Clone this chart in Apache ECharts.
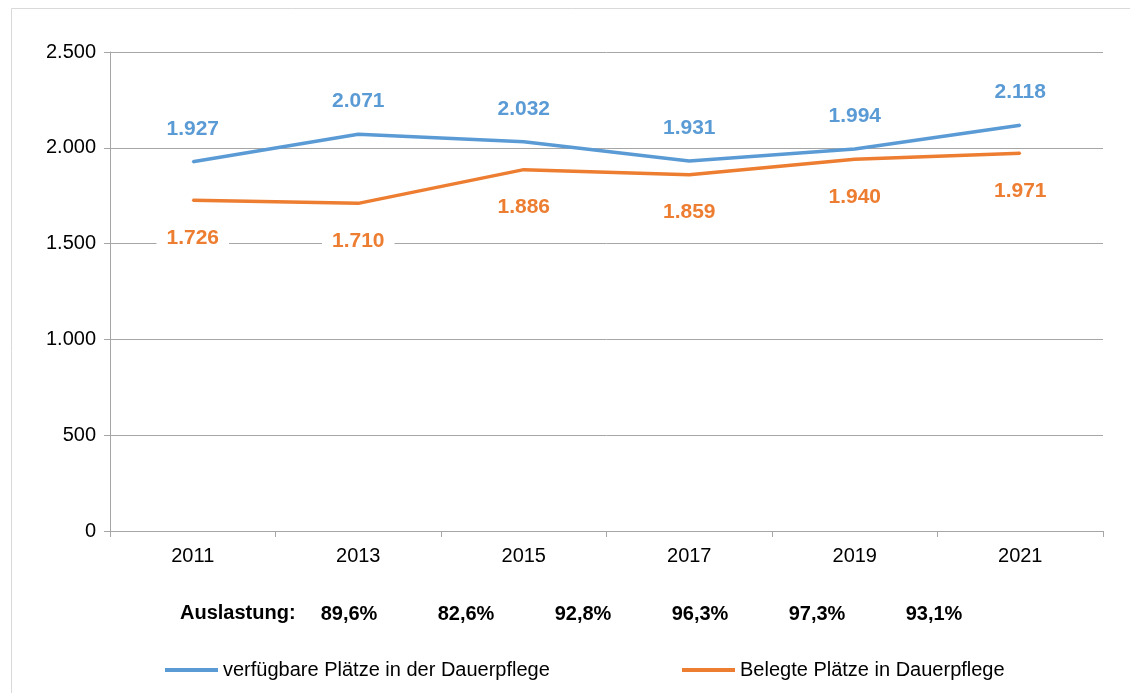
<!DOCTYPE html>
<html>
<head>
<meta charset="utf-8">
<script src="https://cdn.jsdelivr.net/npm/echarts@6/dist/echarts.min.js"></script>
<style>
html,body{margin:0;padding:0;background:#fff;}
#chart{width:1130px;height:693px;}
</style>
</head>
<body>
<div id="chart"></div>
<script>
var years = ['2011', '2013', '2015', '2017', '2019', '2021'];
var verfuegbar = [1927, 2071, 2032, 1931, 1994, 2118];
var belegt = [1726, 1710, 1886, 1859, 1940, 1971];
var auslastung = ['89,6%', '82,6%', '92,8%', '96,3%', '97,3%', '93,1%'];
var auslastungX = [349, 466, 583, 700, 817, 934];

var FONT = '"Liberation Sans", Arial, sans-serif';
var BLUE = '#5B9BD5';
var ORANGE = '#ED7D31';

function fmt(v) {
  return String(v).replace(/\B(?=(\d{3})+(?!\d))/g, '.');
}

var chart = echarts.init(document.getElementById('chart'));

var graphics = [{
  type: 'rect',
  shape: {x: 11.5, y: 8.5, width: 1200, height: 800},
  style: {fill: 'none', stroke: '#D9D9D9', lineWidth: 1}
}, {
  type: 'text',
  left: 180, top: 603,
  style: {text: 'Auslastung:', font: 'bold 20px ' + FONT, fill: '#000'}
}];
auslastung.forEach(function (t, i) {
  graphics.push({
    type: 'text',
    x: auslastungX[i], y: 614,
    style: {text: t, font: 'bold 20px ' + FONT, fill: '#000', align: 'center', verticalAlign: 'middle'}
  });
});

var option = {
  backgroundColor: '#fff',
  textStyle: {fontFamily: FONT},
  grid: {left: 110, right: 27, top: 52, bottom: 162},
  legend: [{
    data: ['verfügbare Plätze in der Dauerpflege'],
    left: 160, top: 655,
    icon: 'rect', itemWidth: 53, itemHeight: 4,
    textStyle: {fontSize: 20, color: '#000', fontFamily: FONT}
  }, {
    data: ['Belegte Plätze in Dauerpflege'],
    left: 677, top: 655,
    icon: 'rect', itemWidth: 53, itemHeight: 4,
    textStyle: {fontSize: 20, color: '#000', fontFamily: FONT}
  }],
  xAxis: {
    type: 'category',
    data: years,
    boundaryGap: true,
    axisLine: {lineStyle: {color: '#A6A6A6', width: 1}},
    axisTick: {show: true, length: 6, lineStyle: {color: '#A6A6A6'}},
    axisLabel: {color: '#000', fontSize: 20, margin: 15, fontFamily: FONT}
  },
  yAxis: {
    type: 'value',
    min: 0, max: 2500, interval: 500,
    axisLine: {show: true, lineStyle: {color: '#A6A6A6', width: 1}},
    axisTick: {show: true, length: 6, lineStyle: {color: '#A6A6A6'}},
    splitLine: {lineStyle: {color: '#A6A6A6', width: 1}},
    axisLabel: {color: '#000', fontSize: 20, margin: 14, fontFamily: FONT, formatter: fmt}
  },
  series: [{
    name: 'verfügbare Plätze in der Dauerpflege',
    type: 'line',
    data: verfuegbar,
    symbol: 'circle', symbolSize: 2, showSymbol: true,
    lineStyle: {color: BLUE, width: 3.5},
    itemStyle: {color: BLUE},
    label: {
      show: true, position: 'top', distance: 19,
      color: BLUE, fontWeight: 'bold', fontSize: 21, fontFamily: FONT,
      backgroundColor: '#fff', padding: [2, 10],
      formatter: function (p) { return fmt(p.value); }
    },
    z: 3
  }, {
    name: 'Belegte Plätze in Dauerpflege',
    type: 'line',
    data: belegt,
    symbol: 'circle', symbolSize: 2, showSymbol: true,
    lineStyle: {color: ORANGE, width: 3.5},
    itemStyle: {color: ORANGE},
    label: {
      show: true, position: 'bottom', distance: 24,
      color: ORANGE, fontWeight: 'bold', fontSize: 21, fontFamily: FONT,
      backgroundColor: '#fff', padding: [2, 10],
      formatter: function (p) { return fmt(p.value); }
    },
    z: 2
  }],
  graphic: graphics
};
chart.setOption(option);
</script>
</body>
</html>
